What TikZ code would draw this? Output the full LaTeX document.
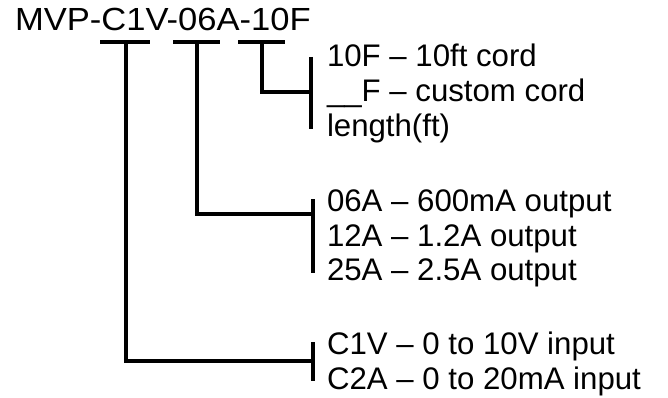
\documentclass[tikz,border=0pt]{standalone}
\usepackage{fontspec}
\setmainfont{Liberation Sans}
\tikzset{
  lbl/.style={anchor=base west, inner sep=0pt, outer sep=0pt, font=\fontsize{31.2}{35}\selectfont},
  titlelbl/.style={anchor=base west, inner sep=0pt, outer sep=0pt, xscale=1.08, font=\fontsize{32}{35}\selectfont},
  rule/.style={line width=3.6pt},
  bar/.style={line width=4.2pt},
}
\begin{document}
\begin{tikzpicture}[x=1pt,y=-1pt]
\useasboundingbox[fill=white] (0,0) rectangle (668,398);
% title
\node[titlelbl] (title) at (15,30.5) {MVP-C1V-06A-10F};
% bars under code segments
\coordinate (b1l) at (100,42); \coordinate (b1r) at (150,42); \coordinate (b1) at (126,42);
\coordinate (b2l) at (173,42); \coordinate (b2r) at (220,42); \coordinate (b2) at (197,42);
\coordinate (b3l) at (238,42); \coordinate (b3r) at (285,42); \coordinate (b3) at (262,42);
\draw[bar] (b1l) -- (b1r);
\draw[bar] (b2l) -- (b2r);
\draw[bar] (b3l) -- (b3r);
% cord group
\node[lbl] (f1) at (327,67) {10F – 10ft cord};
\node[lbl] (f2) at (327,102) {\_\_F – custom cord};
\node[lbl] (f3) at (327,137) {length(ft)};
\coordinate (kf) at (311,92);
\coordinate (kft) at (311,57); \coordinate (kfb) at (311,129);
\draw[rule] (b3) |- (kf);
\draw[rule] (kft) -- (kfb);
% output group
\node[lbl] (o1) at (327,211) {06A – 600mA output};
\node[lbl] (o2) at (327,246) {12A – 1.2A output};
\node[lbl] (o3) at (327,280) {25A – 2.5A output};
\coordinate (ko) at (313,214);
\coordinate (kot) at (313,199); \coordinate (kob) at (313,273);
\draw[rule] (b2) |- (ko);
\draw[rule] (kot) -- (kob);
% input group
\node[lbl] (i1) at (327,354) {C1V – 0 to 10V input};
\node[lbl] (i2) at (327,389) {C2A – 0 to 20mA input};
\coordinate (ki) at (313,361);
\coordinate (kit) at (313,342); \coordinate (kib) at (313,381);
\draw[rule] (b1) |- (ki);
\draw[rule] (kit) -- (kib);
\end{tikzpicture}
\end{document}
